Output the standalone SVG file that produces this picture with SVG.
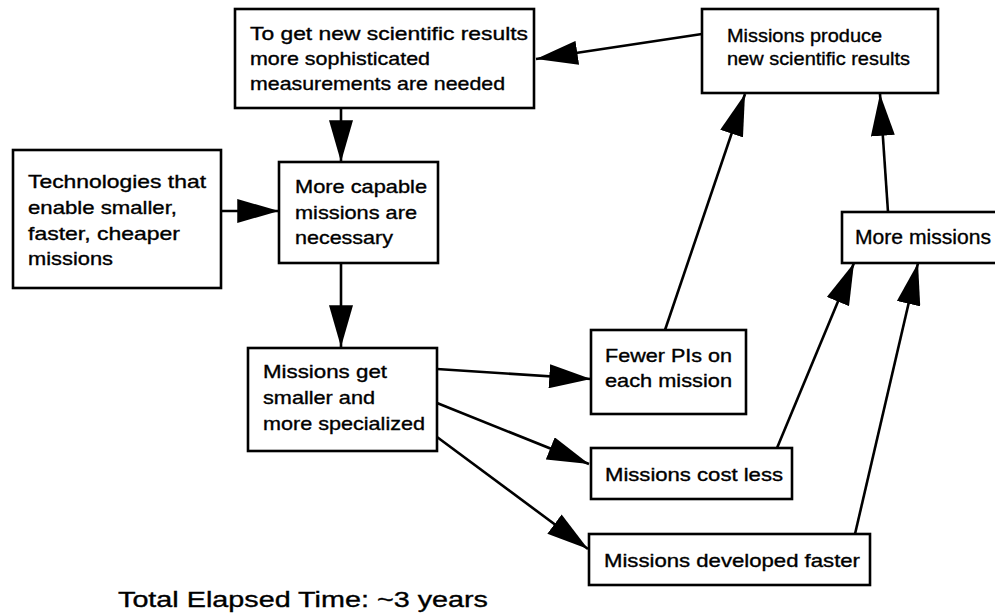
<svg xmlns="http://www.w3.org/2000/svg" width="995" height="616" viewBox="0 0 995 616">
<style>
  .box{fill:#fff;stroke:#000;stroke-width:2.6}
  .t{font-family:"Liberation Sans",Arial,sans-serif;font-size:18.5px;fill:#000;stroke:#000;stroke-width:0.35}
  .con line{stroke:#000;stroke-width:2.6;fill:none;marker-end:url(#ah)}
</style>
<defs>
  <marker id="ah" markerUnits="userSpaceOnUse" markerWidth="42" markerHeight="24" viewBox="0 0 40 23" refX="40" refY="11.5" orient="auto">
    <path d="M0,0 L40,11.5 L0,23 z" fill="#000"/>
  </marker>
</defs>
<rect width="995" height="616" fill="#fff"/>
<g id="connectors" class="con">
  <line x1="702" y1="34" x2="536" y2="59"/>
  <line x1="341" y1="108" x2="341" y2="162"/>
  <line x1="221" y1="211" x2="279" y2="211"/>
  <line x1="341" y1="263" x2="341" y2="347"/>
  <line x1="437" y1="369" x2="591" y2="379"/>
  <line x1="437" y1="403" x2="589" y2="464"/>
  <line x1="437" y1="437" x2="588" y2="549"/>
  <line x1="665" y1="330" x2="745" y2="94"/>
  <line x1="777" y1="448" x2="854" y2="263"/>
  <line x1="855" y1="534" x2="918" y2="263"/>
  <line x1="888" y1="212" x2="880" y2="94"/>
</g>
<g id="need-measurements">
  <rect class="box" x="235" y="9" width="299" height="99"/>
  <text class="t" x="250" y="40" textLength="278" lengthAdjust="spacingAndGlyphs">To get new scientific results</text>
  <text class="t" x="250" y="65" textLength="180" lengthAdjust="spacingAndGlyphs">more sophisticated</text>
  <text class="t" x="250" y="90" textLength="255" lengthAdjust="spacingAndGlyphs">measurements are needed</text>
</g>
<g id="produce-results">
  <rect class="box" x="702" y="9" width="236" height="84"/>
  <text class="t" x="727" y="42" textLength="155" lengthAdjust="spacingAndGlyphs">Missions produce</text>
  <text class="t" x="727" y="65" textLength="183" lengthAdjust="spacingAndGlyphs">new scientific results</text>
</g>
<g id="technologies">
  <rect class="box" x="13" y="150" width="208" height="138"/>
  <text class="t" x="28" y="188" textLength="178" lengthAdjust="spacingAndGlyphs">Technologies that</text>
  <text class="t" x="28" y="214" textLength="149" lengthAdjust="spacingAndGlyphs">enable smaller,</text>
  <text class="t" x="28" y="240" textLength="152" lengthAdjust="spacingAndGlyphs">faster, cheaper</text>
  <text class="t" x="28" y="265" textLength="85" lengthAdjust="spacingAndGlyphs">missions</text>
</g>
<g id="more-capable">
  <rect class="box" x="279" y="162" width="159" height="101"/>
  <text class="t" x="295" y="193" textLength="132" lengthAdjust="spacingAndGlyphs">More capable</text>
  <text class="t" x="295" y="219" textLength="122" lengthAdjust="spacingAndGlyphs">missions are</text>
  <text class="t" x="295" y="244" textLength="98" lengthAdjust="spacingAndGlyphs">necessary</text>
</g>
<g id="smaller-specialized">
  <rect class="box" x="248" y="348" width="189" height="103"/>
  <text class="t" x="263" y="378" textLength="124" lengthAdjust="spacingAndGlyphs">Missions get</text>
  <text class="t" x="263" y="404" textLength="112" lengthAdjust="spacingAndGlyphs">smaller and</text>
  <text class="t" x="263" y="430" textLength="162" lengthAdjust="spacingAndGlyphs">more specialized</text>
</g>
<g id="fewer-pis">
  <rect class="box" x="591" y="330" width="155" height="84"/>
  <text class="t" x="605" y="362" textLength="127" lengthAdjust="spacingAndGlyphs">Fewer PIs on</text>
  <text class="t" x="605" y="387" textLength="127" lengthAdjust="spacingAndGlyphs">each mission</text>
</g>
<g id="cost-less">
  <rect class="box" x="591" y="448" width="201" height="51"/>
  <text class="t" x="605" y="481" textLength="178" lengthAdjust="spacingAndGlyphs">Missions cost less</text>
</g>
<g id="developed-faster">
  <rect class="box" x="589" y="534" width="281" height="51"/>
  <text class="t" x="604" y="567" textLength="256" lengthAdjust="spacingAndGlyphs">Missions developed faster</text>
</g>
<g id="more-missions">
  <rect class="box" x="842" y="212" width="165" height="51"/>
  <text class="t" x="855" y="244" font-size="21" textLength="136" lengthAdjust="spacingAndGlyphs" style="font-size:21px">More missions</text>
</g>
<text class="t" x="118" y="607" style="font-size:22px" textLength="370" lengthAdjust="spacingAndGlyphs">Total Elapsed Time:  ~3 years</text>
</svg>
